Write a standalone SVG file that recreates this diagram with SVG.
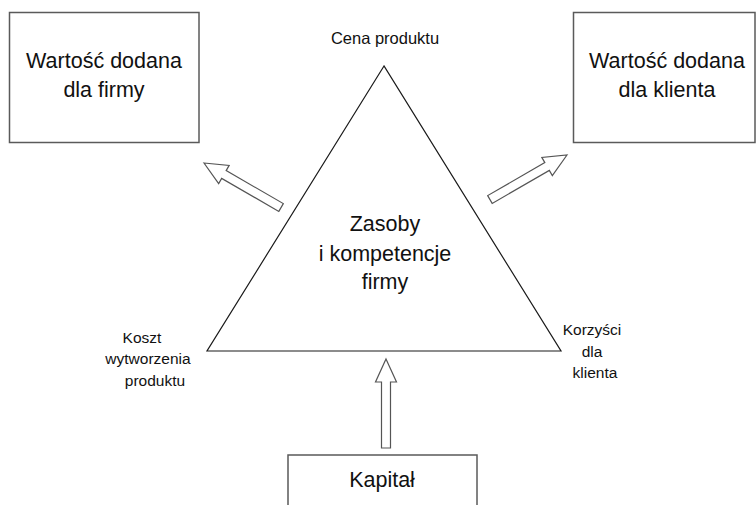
<svg xmlns="http://www.w3.org/2000/svg" width="756" height="505" viewBox="0 0 756 505">
<defs>
<style>
.box{fill:#fff;stroke:#5a5a5a;stroke-width:1.5}
.tri{fill:#fff;stroke:#1a1a1a;stroke-width:1.2}
.big{font-family:"Liberation Sans",Arial,sans-serif;font-size:21.5px;fill:#111;text-anchor:middle}
.small{font-family:"Liberation Sans",Arial,sans-serif;font-size:15.5px;fill:#111;text-anchor:middle}
.arr{fill:#fff;stroke:#555;stroke-width:1.2;stroke-linejoin:miter}
</style>
<path id="blk" d="M0,0 L10.5,23 L4.5,23 L4.5,89 L-4.5,89 L-4.5,23 L-10.5,23 Z"/>
</defs>
<rect width="756" height="505" fill="#fff"/>
<g id="firma">
<rect class="box" x="9.5" y="12.5" width="189.5" height="130"/>
<text class="big" x="104" y="68">Wartość dodana</text>
<text class="big" x="104" y="97">dla firmy</text>
</g>
<g id="klient">
<rect class="box" x="573.5" y="12.5" width="181.5" height="130"/>
<text class="big" x="667" y="68">Wartość dodana</text>
<text class="big" x="667" y="97">dla klienta</text>
</g>
<g id="zasoby">
<polygon class="tri" points="384,66 207,351 561,351"/>
<text class="big" x="385" y="231">Zasoby</text>
<text class="big" x="385" y="261">i kompetencje</text>
<text class="big" x="385" y="289">firmy</text>
</g>
<g id="cena">
<text class="small" x="385" y="44" style="font-size:16.5px">Cena produktu</text>
</g>
<g id="koszt">
<text class="small" x="142" y="343">Koszt</text>
<text class="small" x="148" y="364">wytworzenia</text>
<text class="small" x="155" y="386">produktu</text>
</g>
<g id="korzysci">
<text class="small" x="592" y="335">Korzyści</text>
<text class="small" x="592" y="357">dla</text>
<text class="small" x="595" y="378">klienta</text>
</g>
<g id="kapital">
<rect class="box" x="288" y="455" width="189" height="60"/>
<text class="big" x="382" y="487">Kapitał</text>
</g>
<g id="connectors">
<use href="#blk" class="arr" transform="translate(204,163) rotate(-60)"/>
<use href="#blk" class="arr" transform="translate(567,155) rotate(60)"/>
<use href="#blk" class="arr" transform="translate(386,359)"/>
</g>
</svg>
